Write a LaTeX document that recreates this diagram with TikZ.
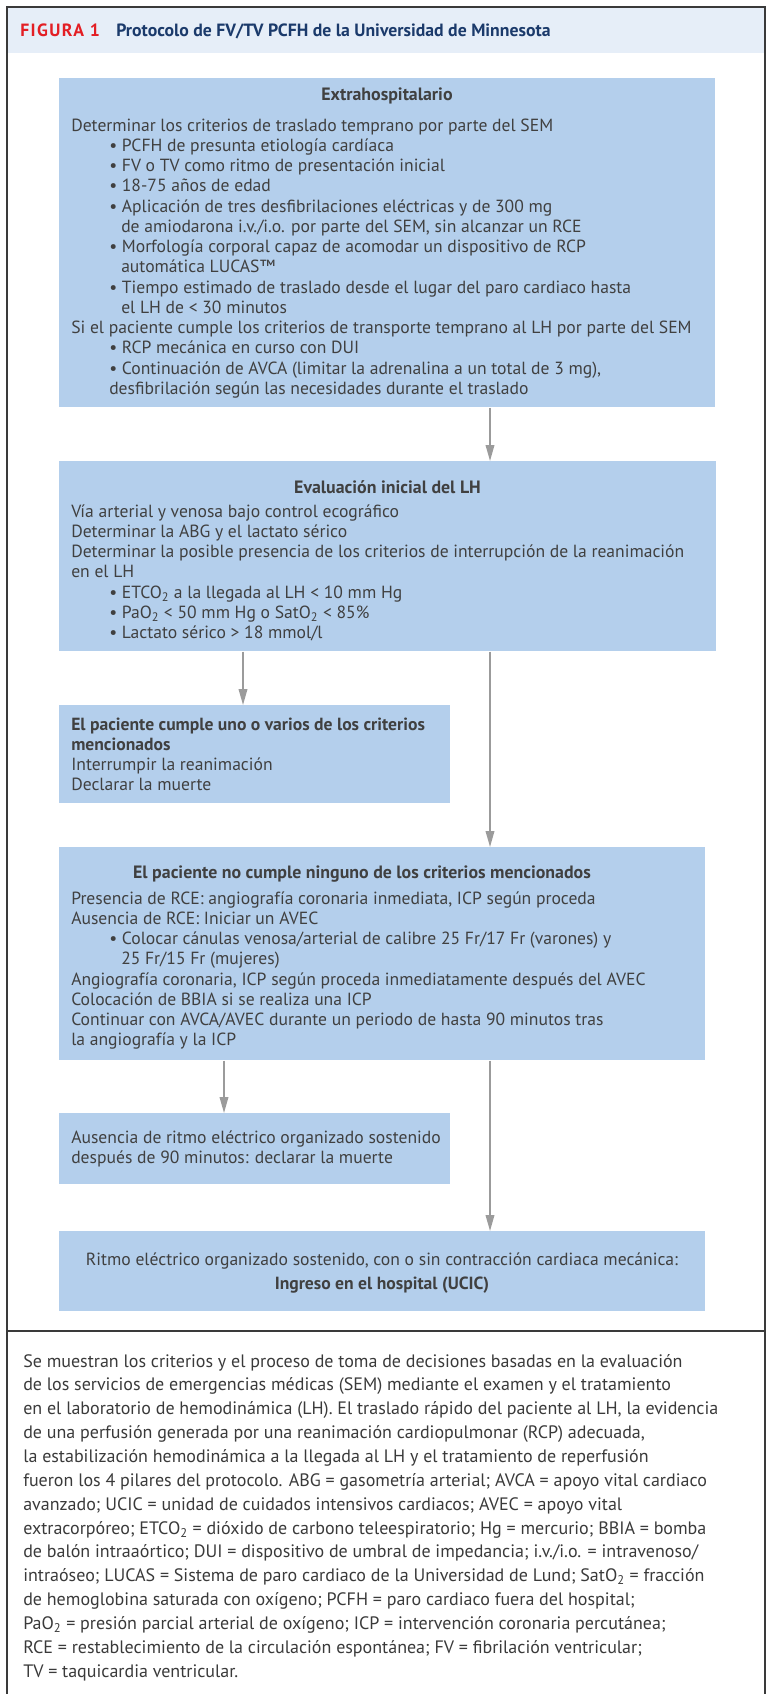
\documentclass[tikz,border=0pt]{standalone}
\usepackage{fontspec}
\setmainfont{PT Sans}
\usetikzlibrary{arrows.meta}

\definecolor{boxblue}{HTML}{B4CFEC}
\definecolor{headblue}{HTML}{E6EEF8}
\definecolor{figred}{HTML}{E31E24}
\definecolor{navy}{HTML}{1B3A6B}
\definecolor{txtgray}{HTML}{404040}
\definecolor{arrgray}{HTML}{9B9B9B}
\definecolor{framegray}{HTML}{3A3A3A}

\newcommand{\bitem}{\hspace*{28.5pt}\textbullet\ }
\newcommand{\bcont}{\hspace*{37.5pt}}

\begin{document}
\begin{tikzpicture}[x=0.75pt, y=-0.75pt,
    stepbox/.style={fill=boxblue, draw=none, anchor=north west, inner sep=0pt},
    txt/.style={anchor=base west, inner sep=0pt, align=left, text=txtgray, font=\fontsize{13.2}{15.2}\selectfont},
    ttl/.style={anchor=base, inner sep=0pt, text=txtgray, font=\fontsize{13.4}{15.2}\selectfont\bfseries},
    flow/.style={draw=arrgray, line width=1.1pt, -{Triangle[length=12pt, width=6.5pt]}}]
    \useasboundingbox (0,0) rectangle (767,1694);

    % frame and header
    \fill[headblue] (7,7) rectangle (765,53);
    \draw[framegray, line width=1.1pt] (7,1694) -- (7,7) -- (765,7) -- (765,1694);
    \draw[framegray, line width=1.1pt] (7,1331) -- (765,1331);
    \node[anchor=base west, inner sep=0pt, text=figred, font=\fontsize{13.3}{15}\selectfont\bfseries\addfontfeature{LetterSpace=8}] (fig) at (20,37) {FIGURA 1};
    \node[anchor=base west, inner sep=0pt, text=navy, font=\fontsize{13.3}{15}\selectfont\bfseries] (title) at (116,37) {Protocolo de FV/TV PCFH de la Universidad de Minnesota};

    % boxes
    \node[stepbox, minimum width=492pt, minimum height=246.75pt] (extra) at (59,78) {};
    \node[stepbox, minimum width=492.75pt, minimum height=142.5pt] (eval) at (59,461) {};
    \node[stepbox, minimum width=293.25pt, minimum height=73.5pt] (stop) at (59,705) {};
    \node[stepbox, minimum width=484.5pt, minimum height=159.75pt] (nocrit) at (59,847) {};
    \node[stepbox, minimum width=293.25pt, minimum height=53.25pt] (death) at (59,1113) {};
    \node[stepbox, minimum width=484.5pt, minimum height=60pt] (admit) at (59,1231) {};

    % multi-line texts sit on the baseline of their last line
    \node[ttl] (extrattl) at (387,101) {Extrahospitalario};
    \node[txt] (extratxt) at (71,394.5) {Determinar los criterios de traslado temprano por parte del SEM\\
        \bitem PCFH de presunta etiología cardíaca\\
        \bitem FV o TV como ritmo de presentación inicial\\
        \bitem 18-75 años de edad\\
        \bitem Aplicación de tres desfibrilaciones eléctricas y de 300 mg\\
        \bcont de amiodarona i.v./i.o. por parte del SEM, sin alcanzar un RCE\\
        \bitem Morfología corporal capaz de acomodar un dispositivo de RCP\\
        \bcont automática LUCAS™\\
        \bitem Tiempo estimado de traslado desde el lugar del paro cardiaco hasta\\
        \bcont el LH de < 30 minutos\\
        Si el paciente cumple los criterios de transporte temprano al LH por parte del SEM\\
        \bitem RCP mecánica en curso con DUI\\
        \bitem Continuación de AVCA (limitar la adrenalina a un total de 3 mg),\\
        \hspace*{28.5pt}desfibrilación según las necesidades durante el traslado};

    \node[ttl] (evalttl) at (387.5,493) {Evaluación inicial del LH};
    \node[txt] (evaltxt) at (71,638.6) {Vía arterial y venosa bajo control ecográfico\\
        Determinar la ABG y el lactato sérico\\
        Determinar la posible presencia de los criterios de interrupción de la reanimación\\
        en el LH\\
        \bitem ETCO\textsubscript{2} a la llegada al LH < 10 mm Hg\\
        \bitem PaO\textsubscript{2} < 50 mm Hg o SatO\textsubscript{2} < 85\%\\
        \bitem Lactato sérico > 18 mmol/l};

    \node[txt] (stoptxt) at (71,790.8) {\textbf{El paciente cumple uno o varios de los criterios}\\
        \textbf{mencionados}\\
        Interrumpir la reanimación\\
        Declarar la muerte};

    \node[ttl] (nocritttl) at (362,878) {El paciente no cumple ninguno de los criterios mencionados};
    \node[txt] (nocrittxt) at (71,1045.9) {Presencia de RCE: angiografía coronaria inmediata, ICP según proceda\\
        Ausencia de RCE: Iniciar un AVEC\\
        \bitem Colocar cánulas venosa/arterial de calibre 25 Fr/17 Fr (varones) y\\
        \bcont 25 Fr/15 Fr (mujeres)\\
        Angiografía coronaria, ICP según proceda inmediatamente después del AVEC\\
        Colocación de BBIA si se realiza una ICP\\
        Continuar con AVCA/AVEC durante un periodo de hasta 90 minutos tras\\
        la angiografía y la ICP};

    \node[txt] (deathtxt) at (71,1163.3) {Ausencia de ritmo eléctrico organizado sostenido\\
        después de 90 minutos: declarar la muerte};

    \node[anchor=base, inner sep=0pt, align=center, text=txtgray, font=\fontsize{13.2}{18}\selectfont] (admittxt) at (382,1289) {Ritmo eléctrico organizado sostenido, con o sin contracción cardiaca mecánica:\\
        \textbf{Ingreso en el hospital (UCIC)}};

    % connectors
    \coordinate (colr) at (490,0);
    \coordinate (colstop) at (243,0);
    \coordinate (coldeath) at (224,0);
    \draw[flow] (extra.south -| colr) -- (eval.north -| colr);
    \draw[flow] (eval.south -| colstop) -- (stop.north -| colstop);
    \draw[flow] (eval.south -| colr) -- (nocrit.north -| colr);
    \draw[flow] (nocrit.south -| coldeath) -- (death.north -| coldeath);
    \draw[flow] (nocrit.south -| colr) -- (admit.north -| colr);

    % caption
    \node[anchor=base west, inner sep=0pt, align=left, text=framegray, font=\fontsize{13.5}{17.9}\selectfont] (caption) at (23,1677.3) {Se muestran los criterios y el proceso de toma de decisiones basadas en la evaluación\\
        de los servicios de emergencias médicas (SEM) mediante el examen y el tratamiento\\
        en el laboratorio de hemodinámica (LH). El traslado rápido del paciente al LH, la evidencia\\
        de una perfusión generada por una reanimación cardiopulmonar (RCP) adecuada,\\
        la estabilización hemodinámica a la llegada al LH y el tratamiento de reperfusión\\
        fueron los 4 pilares del protocolo. ABG = gasometría arterial; AVCA = apoyo vital cardiaco\\
        avanzado; UCIC = unidad de cuidados intensivos cardiacos; AVEC = apoyo vital\\
        extracorpóreo; ETCO\textsubscript{2} = dióxido de carbono teleespiratorio; Hg = mercurio; BBIA = bomba\\
        de balón intraaórtico; DUI = dispositivo de umbral de impedancia; i.v./i.o. = intravenoso/\\
        intraóseo; LUCAS = Sistema de paro cardiaco de la Universidad de Lund; SatO\textsubscript{2} = fracción\\
        de hemoglobina saturada con oxígeno; PCFH = paro cardiaco fuera del hospital;\\
        PaO\textsubscript{2} = presión parcial arterial de oxígeno; ICP = intervención coronaria percutánea;\\
        RCE = restablecimiento de la circulación espontánea; FV = fibrilación ventricular;\\
        TV = taquicardia ventricular.};
\end{tikzpicture}
\end{document}
